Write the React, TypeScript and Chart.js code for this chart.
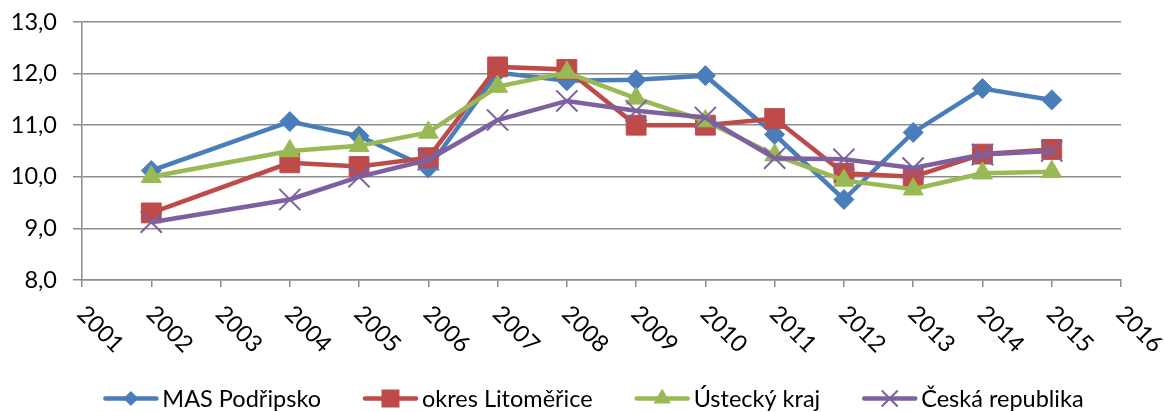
import React, { useEffect, useRef } from 'react';
import { Chart, registerables } from 'chart.js';

Chart.register(...registerables);

const years = [2002, 2004, 2005, 2006, 2007, 2008, 2009, 2010, 2011, 2012, 2013, 2014, 2015];
const masPodripsko = [10.12, 11.07, 10.79, 10.17, 12.02, 11.86, 11.88, 11.96, 10.82, 9.56, 10.86, 11.71, 11.49];
const okresLitomerice = [9.3, 10.27, 10.2, 10.37, 12.13, 12.08, 11.0, 11.0, 11.13, 10.07, 10.0, 10.44, 10.53];
const usteckyKraj = [10.0, 10.5, 10.6, 10.86, 11.75, 12.02, 11.52, 11.08, 10.42, 9.93, 9.76, 10.07, 10.1];
const ceskaRepublika = [9.12, 9.56, 10.0, 10.33, 11.1, 11.47, 11.28, 11.15, 10.36, 10.34, 10.17, 10.43, 10.5];

const seriesNames = ['MAS Podřipsko', 'okres Litoměřice', 'Ústecký kraj', 'Česká republika'];
const seriesValues = [masPodripsko, okresLitomerice, usteckyKraj, ceskaRepublika];
const seriesColors = ['#4a7ebb', '#be4b48', '#98b954', '#7d60a0'];
const seriesMarkers = ['rectRot', 'rect', 'triangle', 'crossRot'];
const markerRadius = [10, 14, 11.5, 15];

const xMin = 2001;
const xMax = 2016;
const yMin = 8;
const yMax = 13;

const FONT_FAMILY = 'Lato, Carlito, "Open Sans", sans-serif';
const FONT_SIZE = 23.5;
const GRID = '#8c8c8c';

function drawMarker(ctx: CanvasRenderingContext2D, type: string, x: number, y: number, color: string) {
  ctx.save();
  ctx.fillStyle = color;
  ctx.strokeStyle = color;
  ctx.beginPath();
  if (type === 'rectRot') {
    const r = 7.5;
    ctx.moveTo(x, y - r);
    ctx.lineTo(x + r, y);
    ctx.lineTo(x, y + r);
    ctx.lineTo(x - r, y);
    ctx.closePath();
    ctx.fill();
  } else if (type === 'rect') {
    const h = 9;
    ctx.rect(x - h, y - h, 2 * h, 2 * h);
    ctx.fill();
  } else if (type === 'triangle') {
    const r = 10;
    ctx.moveTo(x, y - r);
    ctx.lineTo(x + r * 0.866, y + r * 0.5);
    ctx.lineTo(x - r * 0.866, y + r * 0.5);
    ctx.closePath();
    ctx.fill();
  } else {
    const r = 8;
    ctx.lineWidth = 2;
    ctx.moveTo(x - r, y - r);
    ctx.lineTo(x + r, y + r);
    ctx.moveTo(x + r, y - r);
    ctx.lineTo(x - r, y + r);
    ctx.stroke();
  }
  ctx.restore();
}

const customPlugin = {
  id: 'customLabelsLegend',
  afterDraw(chart: any) {
    const ctx: CanvasRenderingContext2D = chart.ctx;
    const xs = chart.scales.x;
    const bottom = chart.chartArea.bottom;
    ctx.save();
    ctx.font = `${FONT_SIZE}px ${FONT_FAMILY}`;
    ctx.fillStyle = '#000';
    // rotated x-axis labels
    for (let yr = xMin; yr <= xMax; yr++) {
      const px = xs.getPixelForValue(yr);
      ctx.save();
      ctx.translate(px - 1, bottom + 30);
      ctx.rotate(Math.PI / 4);
      ctx.textAlign = 'left';
      ctx.textBaseline = 'middle';
      ctx.fillText(String(yr), 0, 0);
      ctx.restore();
    }
    // legend
    const lineLen = 55;
    const gapText = 4;
    const itemGap = 42;
    const widths = seriesNames.map((n) => ctx.measureText(n).width);
    const total = widths.reduce((a, w) => a + lineLen + gapText + w, 0) + itemGap * (seriesNames.length - 1);
    let x = chart.width / 2 + 11 - total / 2;
    const ly = 398.5;
    seriesNames.forEach((name, i) => {
      ctx.save();
      ctx.strokeStyle = seriesColors[i];
      ctx.lineWidth = 4.5;
      ctx.lineCap = 'round';
      ctx.beginPath();
      ctx.moveTo(x + 2, ly);
      ctx.lineTo(x + lineLen - 2, ly);
      ctx.stroke();
      ctx.restore();
      drawMarker(ctx, seriesMarkers[i], x + lineLen / 2, ly, seriesColors[i]);
      ctx.textAlign = 'left';
      ctx.textBaseline = 'alphabetic';
      ctx.fillStyle = '#000';
      ctx.fillText(name, x + lineLen + gapText, 407);
      x += lineLen + gapText + widths[i] + itemGap;
    });
    ctx.restore();
  },
};

export default function App() {
  const canvasRef = useRef<HTMLCanvasElement | null>(null);

  useEffect(() => {
    if (!canvasRef.current) return;
    const datasets = seriesNames.map((name, i) => ({
      label: name,
      data: years.map((yr, j) => ({ x: yr, y: seriesValues[i][j] })),
      borderColor: seriesColors[i],
      backgroundColor: seriesColors[i],
      borderWidth: 4.5,
      pointStyle: seriesMarkers[i],
      pointRadius: markerRadius[i],
      pointHoverRadius: markerRadius[i],
      pointBorderWidth: seriesMarkers[i] === 'crossRot' ? 2 : 1,
      pointBackgroundColor: seriesColors[i],
      pointBorderColor: seriesColors[i],
      tension: 0,
      order: seriesNames.length - i,
      clip: false as any,
    }));
    const chart = new Chart(canvasRef.current, {
      type: 'line',
      data: { datasets },
      plugins: [customPlugin],
      options: {
        responsive: false,
        animation: false,
        layout: { padding: { top: 22, right: 44, left: 0, bottom: 0 } },
        plugins: {
          legend: { display: false },
          tooltip: { enabled: false },
        },
        scales: {
          x: {
            type: 'linear',
            min: xMin,
            max: xMax,
            ticks: { stepSize: 1, display: false },
            grid: { drawOnChartArea: false, drawTicks: true, tickLength: 7, color: GRID, lineWidth: 1.5 },
            border: { display: true, color: GRID, width: 1.5 },
            afterFit: (scale: any) => {
              scale.height = 132;
              scale.paddingLeft = 0;
              scale.paddingRight = 0;
            },
          },
          y: {
            min: yMin,
            max: yMax,
            ticks: {
              stepSize: 1,
              padding: 16,
              color: '#000',
              font: { family: FONT_FAMILY, size: FONT_SIZE },
              callback: (v: any) => Number(v).toFixed(1).replace('.', ','),
            },
            grid: { color: GRID, lineWidth: 1.5, tickLength: 9 },
            border: { display: true, color: GRID, width: 1.5 },
            afterFit: (scale: any) => {
              scale.width = 82;
              scale.paddingTop = 0;
              scale.paddingBottom = 0;
            },
          },
        },
      },
    });
    return () => chart.destroy();
  }, []);

  return (
    <div style={{ position: 'absolute', left: 0, top: 0, width: 1165, height: 412, background: '#fff' }}>
      <canvas ref={canvasRef} width={1165} height={412} style={{ display: 'block' }} />
    </div>
  );
}
